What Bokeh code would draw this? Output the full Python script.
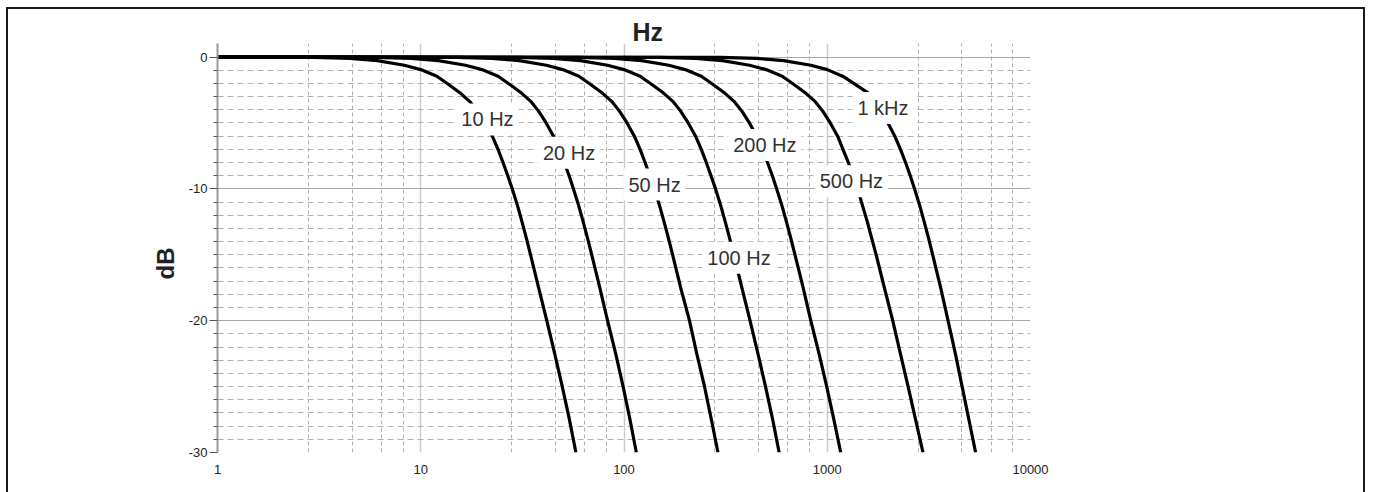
from bokeh.plotting import figure
from bokeh.models import Range1d, FixedTicker, Label, NumeralTickFormatter, Title
from bokeh.embed import file_html
from bokeh.resources import INLINE

# ---- axis ticks ----
X_MAJOR = [1, 10, 100, 1000, 10000]
X_LABELS = ["1", "10", "100", "1000", "10000"]
X_MINOR = [2.8, 4.6, 6.4, 8.2, 28, 46, 64, 82, 280, 460, 640, 820,
           2800, 4600, 6400, 8200]
Y_MAJOR = [0, -10, -20, -30]
Y_LABELS = ["0", "-10", "-20", "-30"]
Y_MINOR = [-1, -2, -3, -4, -5, -6, -7, -8, -9,
           -11, -12, -13, -14, -15, -16, -17, -18, -19,
           -21, -22, -23, -24, -25, -26, -27, -28, -29]

# ---- curves: attenuation levels (dB) and frequency (Hz) where each curve reaches them ----
DB = [0, -0.03, -0.1, -0.27, -0.62, -0.95, -1.45, -2.0, -2.75, -3.4, -4.1,
      -5.0, -6.0, -7.0, -8.0, -9.0, -10.0, -11.25, -12.5, -13.75, -15.0,
      -17.5, -20.0, -22.5, -25.0, -27.5, -30.0]

F_10HZ = [1, 3, 4.5, 6.1, 8.3, 10, 12, 13.5, 15.7, 17.5, 19, 20.7, 22.5,
          24.0, 25.4, 26.8, 28.2, 29.9, 31.5, 33.1, 34.7, 38.0, 41.7, 45.6,
          49.7, 53.9, 58]
F_20HZ = [1, 6, 9, 12.2, 16.6, 20, 24, 27, 31.4, 35, 38, 41.4, 45,
          47.9, 50.8, 53.7, 56.4, 59.8, 63, 66.2, 69.4, 76, 83, 91,
          99, 107, 115]
F_50HZ = [1, 15, 22.5, 30.5, 41.5, 50, 60, 67.5, 78.5, 87.5, 95, 103.5, 112.5,
          120, 127, 134, 141, 149.5, 157.5, 165.5, 173.5, 190, 210, 228,
          249, 269, 290]
F_100HZ = [1, 30, 45, 61, 83, 100, 120, 135, 157, 175, 190, 207, 225,
           240, 254, 268, 282, 299, 315, 331, 347, 380, 417, 456,
           497, 539, 580]
F_200HZ = [1, 60, 90, 122, 166, 200, 240, 270, 314, 350, 380, 414, 450,
           479, 508, 537, 564, 598, 630, 662, 694, 761, 830, 911,
           994, 1078, 1165]
F_500HZ = [1, 150, 225, 305, 415, 500, 600, 675, 785, 875, 950, 1035, 1125,
           1195, 1270, 1338, 1410, 1490, 1575, 1655, 1740, 1910, 2100, 2290,
           2500, 2720, 2958]
F_1KHZ = [1, 300, 450, 610, 830, 1000, 1190, 1350, 1600, 1740, 1860, 1990, 2150,
          2292, 2428, 2561, 2690, 2849, 3000, 3153, 3302, 3613, 3930, 4268,
          4610, 4975, 5370]

CURVES = [F_10HZ, F_20HZ, F_50HZ, F_100HZ, F_200HZ, F_500HZ, F_1KHZ]

# ---- curve labels ----
LABEL_TEXT = ["10 Hz", "20 Hz", "50 Hz", "100 Hz", "200 Hz", "500 Hz", "1 kHz"]
LABEL_F = [21.3, 53.7, 141.3, 368, 493, 1315, 1880]
LABEL_DB = [-4.73, -7.26, -9.67, -15.22, -6.68, -9.43, -3.86]

X_TITLE = "Hz"
Y_TITLE = "dB"

FONT = "Liberation Sans"

p = figure(x_axis_type="log",
           x_range=Range1d(1, 10000), y_range=Range1d(-30, 1.03),
           frame_width=813, frame_height=409,
           min_border_left=209, min_border_right=333,
           min_border_top=34, min_border_bottom=40,
           output_backend="svg", toolbar_location=None,
           background_fill_color="white", border_fill_color="white")
p.outline_line_color = None
p.styles = {"border": "2px solid #1a1a1a", "margin": "7px 0px 0px 6px"}

# "Hz" above the plot
p.title.text = X_TITLE
p.title.text_font = FONT
p.title.text_font_size = "25px"
p.title.text_font_style = "bold"
p.title.text_color = "#222222"
p.title.align = "left"
p.title.offset = 415
p.title.standoff = -5

# "dB" at the left of the y axis
p.add_layout(Title(text=Y_TITLE, align="left", offset=173, standoff=13,
                   text_font=FONT, text_font_size="24px",
                   text_font_style="bold", text_color="#222222"), "left")

# x axis
xa = p.xaxis[0]
xa.ticker = FixedTicker(ticks=X_MAJOR, minor_ticks=X_MINOR)
xa.major_label_overrides = {t: s for t, s in zip(X_MAJOR, X_LABELS)}
xa.formatter = NumeralTickFormatter(format="0")
xa.axis_line_color = None
xa.major_tick_line_color = None
xa.minor_tick_line_color = None
xa.major_tick_out = 0
xa.major_tick_in = 0
xa.major_label_standoff = 8
xa.major_label_text_font = FONT
xa.major_label_text_font_size = "13px"
xa.major_label_text_color = "#222222"

# y axis
ya = p.yaxis[0]
ya.ticker = FixedTicker(ticks=Y_MAJOR, minor_ticks=Y_MINOR)
ya.major_label_overrides = {t: s for t, s in zip(Y_MAJOR, Y_LABELS)}
ya.axis_line_color = "#999999"
ya.axis_line_width = 2
ya.major_tick_line_color = "#555555"
ya.minor_tick_line_color = "#555555"
ya.major_tick_out = 8
ya.major_tick_in = 0
ya.minor_tick_out = 4
ya.minor_tick_in = 0
ya.major_label_standoff = 2
ya.major_label_text_font = FONT
ya.major_label_text_font_size = "13px"
ya.major_label_text_color = "#222222"

# grids
p.xgrid.grid_line_color = "#cccccc"
p.xgrid.grid_line_width = 1.5
p.xgrid.minor_grid_line_color = "#b0b0b0"
p.xgrid.minor_grid_line_dash = "4 3"
p.ygrid.grid_line_color = "#a8a8a8"
p.ygrid.grid_line_width = 1
p.ygrid.minor_grid_line_color = "#b0b0b0"
p.ygrid.minor_grid_line_dash = "6 4"

# curves
for f in CURVES:
    p.line(f, DB, line_color="black", line_width=3.2, line_join="round")

# curve labels
for t, fx, db in zip(LABEL_TEXT, LABEL_F, LABEL_DB):
    p.add_layout(Label(x=fx, y=db, text=t, text_align="center",
                       text_baseline="middle", text_font=FONT,
                       text_font_size="20px", text_color="#333333",
                       background_fill_color="white", padding=5))

open("out.html", "w").write(file_html(p, INLINE))
